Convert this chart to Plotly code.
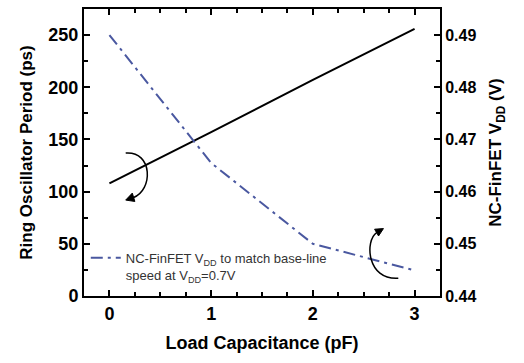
import plotly.graph_objects as go

load_cap = [0, 1, 2, 3]
period_ps = [108, 157, 207, 256]
vdd_v = [0.49, 0.4655, 0.450, 0.4449]

x_ticks = [0, 1, 2, 3]
y_ticks = [0, 50, 100, 150, 200, 250]
y2_ticks = [0.44, 0.45, 0.46, 0.47, 0.48, 0.49]

FONT = "Liberation Sans, Arial, sans-serif"

fig = go.Figure()
fig.add_trace(go.Scatter(
    x=load_cap, y=period_ps, mode="lines",
    line=dict(color="black", width=2), showlegend=False, yaxis="y"))
fig.add_trace(go.Scatter(
    x=load_cap, y=vdd_v, mode="lines",
    line=dict(color="#4a58a0", width=2, dash="12px,5px,3px,5px"),
    name="NC-FinFET V<sub>DD</sub> to match base-line<br>speed at V<sub>DD</sub>=0.7V",
    yaxis="y2"))

axis_common = dict(showline=True, linecolor="black", linewidth=2,
                   ticks="inside", tickcolor="black", tickwidth=1.5, ticklen=6,
                   showgrid=False, zeroline=False)

fig.update_layout(
    width=524, height=363,
    margin=dict(l=84, r=84, t=7, b=67),
    paper_bgcolor="white", plot_bgcolor="white",
    font=dict(family=FONT, color="black"),
    xaxis=dict(range=[-0.25, 3.25], tickvals=x_ticks, mirror="ticks",
               tickfont=dict(size=18, family=FONT, weight="bold"),
               minor=dict(dtick=0.25, ticks="inside", ticklen=4, tickcolor="black"),
               title=dict(text="<b>Load Capacitance (pF)</b>", font=dict(size=18), standoff=14),
               **axis_common),
    yaxis=dict(range=[0, 275], tickvals=y_ticks,
               tickfont=dict(size=18, family=FONT, weight="bold"),
               minor=dict(dtick=25, ticks="inside", ticklen=4, tickcolor="black"),
               title=dict(text="<b>Ring Oscillator Period (ps)</b>", font=dict(size=17), standoff=11),
               **axis_common),
    yaxis2=dict(range=[0.44, 0.495], tickvals=y2_ticks, overlaying="y", side="right",
                tickformat=".2f",
                tickfont=dict(size=16, family=FONT, weight="bold"),
                minor=dict(dtick=0.005, ticks="inside", ticklen=4, tickcolor="black"),
                title=dict(text="<b>NC-FinFET V<sub>DD</sub> (V)</b>", font=dict(size=17), standoff=14),
                **axis_common),
    legend=dict(x=0.005, y=0.185, xanchor="left", yanchor="top",
                bgcolor="rgba(0,0,0,0)", valign="top",
                font=dict(size=13, color="#333333", family=FONT),
                itemwidth=30, tracegroupgap=0),
    showlegend=True,
)

# curved arrows (annotation graphics)
fig.add_shape(type="path", xref="x", yref="y",
              path="M 0.16,137 C 0.43,139 0.43,101 0.233,94.2",
              line=dict(color="black", width=1.5))
fig.add_shape(type="path", xref="x", yref="y",
              path="M 0.160,91.9 L 0.250,90.6 L 0.225,98.6 Z",
              line=dict(color="black", width=1), fillcolor="black")
fig.add_shape(type="path", xref="x", yref="y",
              path="M 2.84,17 C 2.53,15 2.51,53 2.627,60.7",
              line=dict(color="black", width=1.5))
fig.add_shape(type="path", xref="x", yref="y",
              path="M 2.694,64.6 L 2.646,57.5 L 2.607,64.0 Z",
              line=dict(color="black", width=1), fillcolor="black")

fig.write_html("out.html")
